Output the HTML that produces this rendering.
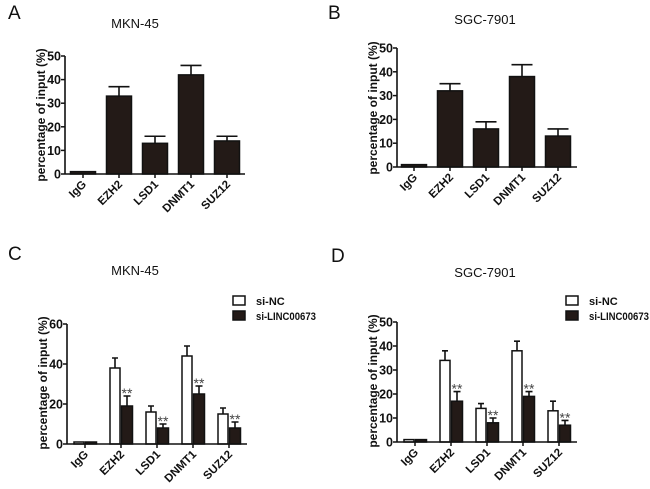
<!DOCTYPE html>
<html><head><meta charset="utf-8">
<style>
html,body{margin:0;padding:0;background:#fff;}
svg{display:block;font-family:"Liberation Sans",Arial,sans-serif;}
</style></head>
<body>
<svg id="fig" width="650" height="489" viewBox="0 0 650 489"></svg>
<script>
const categories = ["IgG","EZH2","LSD1","DNMT1","SUZ12"];
const aValues = [1,33,13,42,14];
const aErrors = [0,4,3,4,2];
const bValues = [1,32,16,38,13];
const bErrors = [0,3,3,5,3];
const cNC = [1,38,16,44,15];
const cNCerr = [0,5,3,5,3];
const cSi = [1,19,8,25,8];
const cSiErr = [0,5,2,4,3];
const dNC = [1,34,14,38,13];
const dNCerr = [0,4,2,4,4];
const dSi = [1,17,8,19,7];
const dSiErr = [0,4,2,2,2];
const aTicks = [0,10,20,30,40,50];
const bTicks = [0,10,20,30,40,50];
const cTicks = [0,20,40,60];
const dTicks = [0,10,20,30,40,50];
const legendLabels = ["si-NC","si-LINC00673"];
const sigLabel = "**";

const NS="http://www.w3.org/2000/svg";
const svg=document.getElementById('fig');
const DARK="#231a17";
function mk(tag,attrs,parent){const e=document.createElementNS(NS,tag);for(const k in attrs)e.setAttribute(k,attrs[k]);(parent||svg).appendChild(e);return e;}
function txt(s,attrs,parent){const e=mk('text',attrs,parent);e.textContent=s;return e;}

function panel(o){
  const g=mk('g',{});
  
  
  const y=v=>o.y0-(v/o.max)*(o.y0-o.yTop);
  const cx=i=>o.ax+o.off+36*i;
  const l=txt(o.letter,{x:o.lx,y:o.ly,'font-size':19,fill:'#111'},g);
  
  const t=txt(o.title,{x:o.tx,y:o.ty,'font-size':13,'text-anchor':'middle',fill:'#111'},g);
  
  o.series.forEach((s,si)=>{
    s.vals.forEach((v,i)=>{
      const bx=cx(i)+s.dx-s.w/2, top=y(v);
      const r=mk('rect',{x:bx,y:top,width:s.w,height:o.y0-top,fill:s.fill,stroke:'#111','stroke-width':1.5},g);
      
      
      const e=s.err[i];
      if(e>0){
        const ex=cx(i)+s.dx, ey=y(v+e);
        const el=mk('path',{d:`M${ex},${top}V${ey}M${ex-s.w/2+2},${ey}H${ex+s.w/2-2}`,stroke:'#111','stroke-width':1.6,fill:'none'},g);
        
        if(s.sig){
          const st=txt(sigLabel,{x:ex,y:ey+2,'font-size':14,'text-anchor':'middle',fill:'#444'},g);
          
        }
      }
    });
  });
  const ya=mk('line',{x1:o.ax,y1:o.yTop,x2:o.ax,y2:o.y0,stroke:'#111','stroke-width':1.6},g);
  
  const xa=mk('line',{x1:o.ax,y1:o.y0,x2:o.ax+180,y2:o.y0,stroke:'#111','stroke-width':1.6},g);
  
  o.ticks.forEach(v=>{
    mk('line',{x1:o.ax-4,y1:y(v),x2:o.ax,y2:y(v),stroke:'#111','stroke-width':1.5},g);
    const tl=txt(String(v),{x:o.ax-4,y:y(v)+4.5,'font-size':12.5,'font-weight':'bold','text-anchor':'end',fill:'#111'},g);
    
  });
  categories.forEach((c,i)=>{
    mk('line',{x1:cx(i),y1:o.y0,x2:cx(i),y2:o.y0+4,stroke:'#111','stroke-width':1.5},g);
    const cl=txt(c,{x:0,y:0,'font-size':11.5,'font-weight':'bold','text-anchor':'end',fill:'#111',transform:`translate(${cx(i)+4},${o.y0+11}) rotate(-45)`},g);
    
  });
  const at=txt('percentage of input (%)',{x:0,y:0,'font-size':12,'font-weight':'bold','text-anchor':'middle',fill:'#111',transform:`translate(${o.atx},${o.aty}) rotate(-90)`},g);
  
  if(o.legend){
    o.series.forEach((s,si)=>{
      const le=mk('g',{},g);
      
      const ly=o.legend.y+si*15;
      mk('rect',{x:o.legend.x,y:ly,width:12,height:9,fill:s.fill,stroke:'#111','stroke-width':1.5},le);
      const tt=txt(legendLabels[si],{x:o.legend.x+23,y:ly+9,'font-size':11,'font-weight':'bold',fill:'#111'},le);
      if(si===1){tt.setAttribute('textLength','60');tt.setAttribute('lengthAdjust','spacingAndGlyphs');}
    });
  }
}

panel({name:'panel-a',letter:'A',lx:8,ly:19,title:'MKN-45',tx:135,ty:28,ax:65,y0:174,yTop:56,max:50,off:18,ticks:aTicks,atx:45,aty:115,
  series:[{vals:aValues,err:aErrors,dx:0,w:25,fill:DARK}]});
panel({name:'panel-b',letter:'B',lx:328,ly:19,title:'SGC-7901',tx:485,ty:24,ax:397,y0:167,yTop:48,max:50,off:17,ticks:bTicks,atx:377,aty:108,
  series:[{vals:bValues,err:bErrors,dx:0,w:25,fill:DARK}]});
panel({name:'panel-c',letter:'C',lx:8,ly:260,title:'MKN-45',tx:135,ty:275,ax:67,y0:444,yTop:324,max:60,off:18,ticks:cTicks,atx:47,aty:383,
  legend:{x:233,y:296},
  series:[{vals:cNC,err:cNCerr,dx:-6,w:10,fill:'#fff'},{vals:cSi,err:cSiErr,dx:6,w:11,fill:DARK,sig:true}]});
panel({name:'panel-d',letter:'D',lx:331,ly:262,title:'SGC-7901',tx:485,ty:277,ax:397,y0:442,yTop:322,max:50,off:18,ticks:dTicks,atx:377,aty:381,
  legend:{x:566,y:296},
  series:[{vals:dNC,err:dNCerr,dx:-6,w:10,fill:'#fff'},{vals:dSi,err:dSiErr,dx:6,w:11,fill:DARK,sig:true}]});
</script>
</body></html>
